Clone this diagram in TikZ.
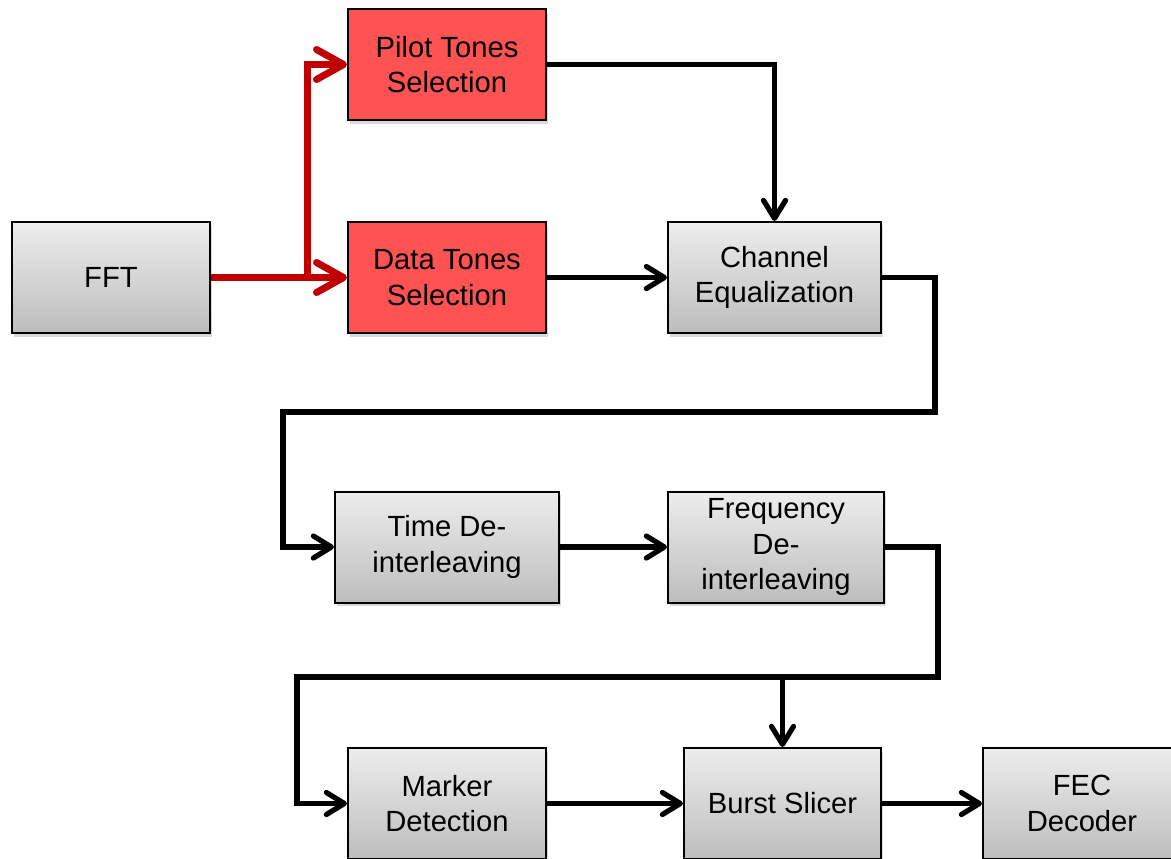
\documentclass[tikz,border=0pt]{standalone}
\usepackage{fontspec}
\setmainfont{Liberation Sans}
\usetikzlibrary{arrows.meta, shadows}
\definecolor{boxtop}{HTML}{EDEDED}
\definecolor{boxbot}{HTML}{BDBDBD}
\definecolor{tonefill}{HTML}{FF5252}
\definecolor{toneline}{HTML}{C00000}
\tikzset{
base/.style={draw, line width=1pt, rectangle, align=center, inner sep=0pt,
  minimum height=55.5pt, font=\fontsize{14.6}{17.8}\selectfont,
  drop shadow={shadow xshift=1.2pt, shadow yshift=-1.8pt, opacity=0.3}}, % common box look
block/.style={base, top color=boxtop, bottom color=boxbot}, % grey processing block
tone/.style={base, fill=tonefill}, % red tone selection block
link/.style={line width=2.6pt, -{Straight Barb[round, length=9pt, width=11pt]}}, % black connector
redlink/.style={link, draw=toneline, line width=3.5pt, -{Straight Barb[round, length=13.5pt, width=15pt]}}, % red connector
}

\begin{document}
\begin{tikzpicture}[x=0.5pt, y=-0.5pt]
        \useasboundingbox (0,0) rectangle (1171,858);
        \clip (0,0) rectangle (1171,858);

        \node[block, minimum width=99pt] (fft) at (111,277.5) {FFT};
        \node[tone, minimum width=99pt] (pilot) at (447,64.5) {Pilot Tones\\Selection};
        \node[tone, minimum width=99pt] (data) at (447,277.5) {Data Tones\\Selection};
        \node[block, minimum width=106.5pt] (chan) at (774.5,277.5) {Channel\\Equalization};
        \node[block, minimum width=112pt] (time) at (447,547) {Time De-\\interleaving};
        \node[block, minimum width=108pt] (freq) at (776,547) {Frequency\\De-\\interleaving};
        \node[block, minimum width=99pt] (marker) at (447,803.5) {Marker\\Detection};
        \node[block, minimum width=98.5pt] (burst) at (782.5,803.5) {Burst Slicer};
        \node[block, minimum width=99pt] (fec) at (1082,803.5) {FEC\\Decoder};

        \coordinate (split) at (307,277.5);
        \coordinate (c1) at (935,412);
        \coordinate (c2) at (283,547);
        \coordinate (c3) at (938,677);
        \coordinate (c4) at (297,803.5);
        \coordinate (c5) at (burst.north |- c3);

        \draw[redlink] (fft) -- (data);
        \draw[redlink] (split) |- (pilot);
        \draw[link] (pilot) -| (chan);
        \draw[link] (data) -- (chan);
        \draw[link] (chan) -| (c1) -| (c2) -- (time);
        \draw[link] (time) -- (freq);
        \draw[link] (freq) -| (c3) -| (c4) -- (marker);
        \draw[link] (c5) -- (burst);
        \draw[link] (marker) -- (burst);
        \draw[link] (burst) -- (fec);
\end{tikzpicture}
\end{document}
